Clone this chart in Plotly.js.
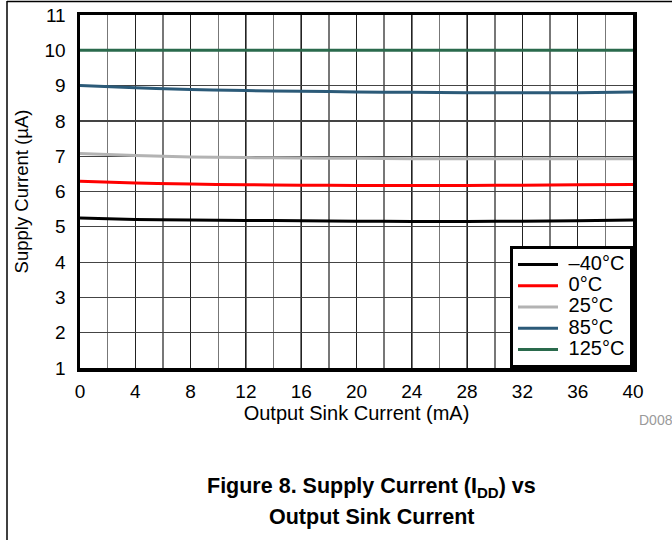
<!DOCTYPE html>
<html>
<head>
<meta charset="utf-8">
<script src="https://cdn.plot.ly/plotly-3.0.1.min.js"></script>
<style>
html,body{margin:0;padding:0;background:#fff;}
#chart{width:672px;height:540px;}
</style>
</head>
<body>
<div id="chart"></div>
<script>
const sinkCurrent = [0, 4, 8, 12, 16, 20, 24, 28, 32, 36, 40];
const seriesNames = ["\u201340\u00B0C", "0\u00B0C", "25\u00B0C", "85\u00B0C", "125\u00B0C"];
const tempM40 = [5.25, 5.21, 5.19, 5.18, 5.17, 5.16, 5.15, 5.15, 5.16, 5.17, 5.19];
const temp0   = [6.29, 6.24, 6.21, 6.19, 6.18, 6.17, 6.17, 6.17, 6.18, 6.19, 6.20];
const temp25  = [7.08, 7.02, 6.98, 6.96, 6.95, 6.94, 6.93, 6.93, 6.93, 6.93, 6.93];
const temp85  = [9.00, 8.94, 8.89, 8.86, 8.84, 8.82, 8.81, 8.80, 8.80, 8.80, 8.82];
const temp125 = [10.0, 10.0, 10.0, 10.0, 10.0, 10.0, 10.0, 10.0, 10.0, 10.0, 10.0];
const xTicks = [0, 4, 8, 12, 16, 20, 24, 28, 32, 36, 40];
const yTicks = [1, 2, 3, 4, 5, 6, 7, 8, 9, 10, 11];

const colors = ["#000000", "#ff0000", "#b3b3b3", "#2b5a78", "#2a6a4c"];
const allY = [tempM40, temp0, temp25, temp85, temp125];

const traces = allY.map((ys, i) => ({
  x: sinkCurrent, y: ys,
  name: '<span style="font-size:20px">\u00A0' + seriesNames[i] + '</span>',
  type: "scatter", mode: "lines",
  line: {color: colors[i], width: 3, shape: "spline"}
}));

const font = "Liberation Sans, Arial, sans-serif";
const L = 80, R = 633, T = 15, B = 368;
const px = v => (v - L) / (R - L);
const py = v => (B - v) / (B - T);

const layout = {
  width: 672, height: 540,
  margin: {l: L, r: 672 - R, t: T, b: 540 - B},
  paper_bgcolor: "#fff", plot_bgcolor: "#fff",
  font: {family: font, size: 18, color: "#000"},
  showlegend: true,
  legend: {x: 1, y: 0, xanchor: "right", yanchor: "bottom",
    bordercolor: "#000", borderwidth: 3, bgcolor: "#fff", itemwidth: 40,
    font: {family: font, size: 14, color: "#000"}, tracegroupgap: 0},
  xaxis: {
    range: [0, 40], tickmode: "array", tickvals: xTicks, ticktext: xTicks.map(String),
    showgrid: true, gridcolor: "#222", gridwidth: 1,
    minor: {dtick: 2, showgrid: true, gridcolor: "#777", gridwidth: 1.5},
    showline: true, linecolor: "#000", linewidth: 3.5, mirror: true,
    ticks: "", ticklabelstandoff: 4, zeroline: false,
    tickfont: {family: font, size: 19},
    title: {text: "Output Sink Current (mA)", font: {family: font, size: 20}, standoff: 0}
  },
  yaxis: {
    range: [1, 11], tickmode: "array", tickvals: yTicks, ticktext: yTicks.map(String),
    showgrid: true, gridcolor: "#444", gridwidth: 1.2,
    showline: true, linecolor: "#000", linewidth: 3.5, mirror: true,
    ticks: "", ticklabelstandoff: 7, zeroline: false,
    tickfont: {family: font, size: 19},
    title: {text: "Supply Current (\u00B5A)", font: {family: font, size: 18.5}, standoff: 12}
  },
  shapes: [
    {type: "line", xref: "paper", yref: "paper", x0: px(7), x1: px(7), y0: py(1), y1: py(545), line: {color: "#000", width: 1.5}},
    {type: "line", xref: "paper", yref: "paper", x0: px(7), x1: px(680), y0: py(1.5), y1: py(1.5), line: {color: "#000", width: 1.5}}
  ],
  annotations: [
    {xref: "paper", yref: "paper", x: px(637), y: py(420), xanchor: "left", yanchor: "middle",
     text: "D008", showarrow: false, font: {family: font, size: 14, color: "#9a9a9a"}},
    {xref: "paper", yref: "paper", x: px(371), y: py(487), xanchor: "center", yanchor: "middle",
     text: "<b>Figure 8. Supply Current (I<sub>DD</sub>) vs</b>", showarrow: false, font: {family: font, size: 21.5, color: "#000"}},
    {xref: "paper", yref: "paper", x: px(371), y: py(517), xanchor: "center", yanchor: "middle",
     text: "<b>Output Sink Current</b>", showarrow: false, font: {family: font, size: 21.5, color: "#000"}}
  ]
};

Plotly.newPlot("chart", traces, layout, {displayModeBar: false, staticPlot: true});
</script>
</body>
</html>
